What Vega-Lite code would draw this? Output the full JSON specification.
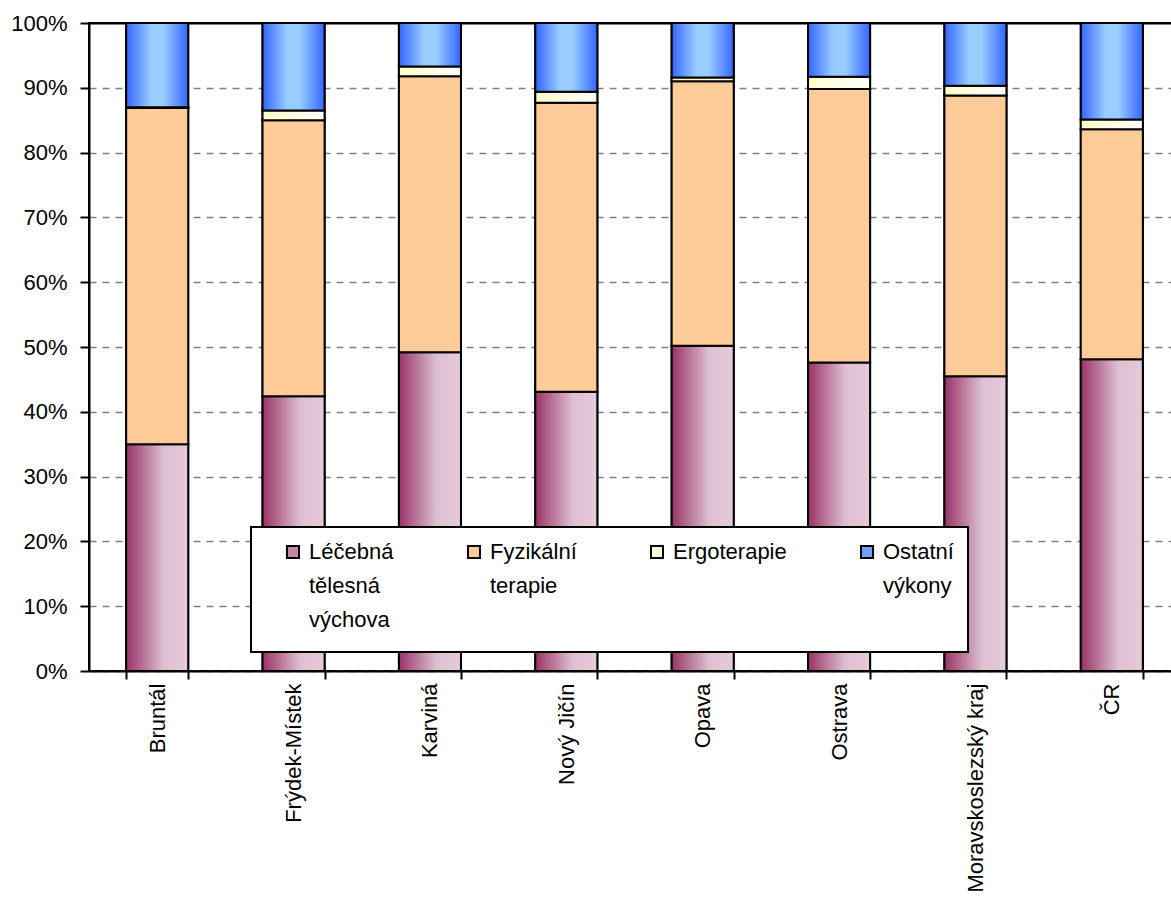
{
  "$schema": "https://vega.github.io/schema/vega-lite/v6.json",
  "width": 1091,
  "height": 648,
  "padding": {"left": 10, "top": 12, "right": 0, "bottom": 0},
  "background": "white",
  "data": {
    "values": [
      {"okres": "Bruntál", "typ": "Léčebná tělesná výchova", "podil": 35.0},
      {"okres": "Bruntál", "typ": "Fyzikální terapie", "podil": 51.9},
      {"okres": "Bruntál", "typ": "Ergoterapie", "podil": 0.1},
      {"okres": "Bruntál", "typ": "Ostatní výkony", "podil": 13.0},
      {"okres": "Frýdek-Místek", "typ": "Léčebná tělesná výchova", "podil": 42.4},
      {"okres": "Frýdek-Místek", "typ": "Fyzikální terapie", "podil": 42.6},
      {"okres": "Frýdek-Místek", "typ": "Ergoterapie", "podil": 1.5},
      {"okres": "Frýdek-Místek", "typ": "Ostatní výkony", "podil": 13.5},
      {"okres": "Karviná", "typ": "Léčebná tělesná výchova", "podil": 49.2},
      {"okres": "Karviná", "typ": "Fyzikální terapie", "podil": 42.6},
      {"okres": "Karviná", "typ": "Ergoterapie", "podil": 1.5},
      {"okres": "Karviná", "typ": "Ostatní výkony", "podil": 6.7},
      {"okres": "Nový Jičín", "typ": "Léčebná tělesná výchova", "podil": 43.1},
      {"okres": "Nový Jičín", "typ": "Fyzikální terapie", "podil": 44.6},
      {"okres": "Nový Jičín", "typ": "Ergoterapie", "podil": 1.7},
      {"okres": "Nový Jičín", "typ": "Ostatní výkony", "podil": 10.6},
      {"okres": "Opava", "typ": "Léčebná tělesná výchova", "podil": 50.2},
      {"okres": "Opava", "typ": "Fyzikální terapie", "podil": 40.8},
      {"okres": "Opava", "typ": "Ergoterapie", "podil": 0.6},
      {"okres": "Opava", "typ": "Ostatní výkony", "podil": 8.4},
      {"okres": "Ostrava", "typ": "Léčebná tělesná výchova", "podil": 47.6},
      {"okres": "Ostrava", "typ": "Fyzikální terapie", "podil": 42.2},
      {"okres": "Ostrava", "typ": "Ergoterapie", "podil": 1.9},
      {"okres": "Ostrava", "typ": "Ostatní výkony", "podil": 8.3},
      {"okres": "Moravskoslezský kraj", "typ": "Léčebná tělesná výchova", "podil": 45.5},
      {"okres": "Moravskoslezský kraj", "typ": "Fyzikální terapie", "podil": 43.3},
      {"okres": "Moravskoslezský kraj", "typ": "Ergoterapie", "podil": 1.5},
      {"okres": "Moravskoslezský kraj", "typ": "Ostatní výkony", "podil": 9.7},
      {"okres": "ČR", "typ": "Léčebná tělesná výchova", "podil": 48.1},
      {"okres": "ČR", "typ": "Fyzikální terapie", "podil": 35.5},
      {"okres": "ČR", "typ": "Ergoterapie", "podil": 1.5},
      {"okres": "ČR", "typ": "Ostatní výkony", "podil": 14.9}
    ]
  },
  "transform": [
    {"calculate": "indexof(['Léčebná tělesná výchova', 'Fyzikální terapie', 'Ergoterapie', 'Ostatní výkony'], datum.typ)", "as": "poradi"}
  ],
  "encoding": {
    "x": {
      "field": "okres",
      "type": "nominal",
      "sort": null,
      "scale": {"paddingInner": 0.545, "paddingOuter": 0.2725},
      "axis": {
        "title": null,
        "labelAngle": -90,
        "tickBand": "extent",
        "tickSize": 8,
        "tickWidth": 2,
        "tickColor": "black",
        "domainColor": "black",
        "domainWidth": 2,
        "labelPadding": 4,
        "labelFont": "Liberation Sans, Arial",
        "labelFontSize": 22,
        "labelColor": "black",
        "labelLimit": 400
      }
    },
    "y": {
      "field": "podil",
      "type": "quantitative",
      "stack": "normalize",
      "scale": {"domain": [0, 1], "nice": false},
      "axis": {
        "title": null,
        "values": [0, 0.1, 0.2, 0.3, 0.4, 0.5, 0.6, 0.7, 0.8, 0.9, 1],
        "format": ".0%",
        "grid": true,
        "gridColor": {"condition": {"test": "datum.value >= 1", "value": "black"}, "value": "#808080"},
        "gridDash": {"condition": {"test": "datum.value >= 1", "value": []}, "value": [7, 6]},
        "gridWidth": {"condition": {"test": "datum.value >= 1", "value": 2}, "value": 1.5},
        "tickSize": 9,
        "tickWidth": 2,
        "tickColor": "black",
        "domainColor": "black",
        "domainWidth": 2,
        "labelPadding": 13,
        "labelFont": "Liberation Sans, Arial",
        "labelFontSize": 22,
        "labelColor": "black"
      }
    },
    "order": {"field": "poradi", "type": "quantitative", "sort": "ascending"}
  },
  "layer": [
    {
      "mark": {"type": "bar", "stroke": "black", "strokeWidth": 2},
      "encoding": {
        "color": {
          "field": "typ",
          "type": "nominal",
          "sort": ["Léčebná tělesná výchova", "Fyzikální terapie", "Ergoterapie", "Ostatní výkony"],
          "scale": {
            "domain": ["Léčebná tělesná výchova", "Fyzikální terapie", "Ergoterapie", "Ostatní výkony"],
            "range": ["#c08aa8", "#ffcc99", "#ffffe0", "#6f9fff"]
          },
          "legend": {
            "title": " ",
            "titleOrient": "bottom",
            "titleFontSize": 6,
            "titlePadding": 1,
            "orient": "none",
            "legendX": 162,
            "legendY": 504,
            "direction": "horizontal",
            "columns": 4,
            "columnPadding": 52,
            "symbolType": "square",
            "symbolSize": 144,
            "symbolStrokeColor": "black",
            "symbolStrokeWidth": 2,
            "symbolOffset": 17,
            "labelOffset": 5,
            "labelFont": "Liberation Sans, Arial",
            "labelFontSize": 22,
            "labelColor": "black",
            "labelLimit": 400,
            "labelBaseline": "top",
            "labelExpr": "datum.label == 'Léčebná tělesná výchova' ? ['Léčebná', 'tělesná', 'výchova'] : datum.label == 'Fyzikální terapie' ? ['Fyzikální', 'terapie', ''] : datum.label == 'Ostatní výkony' ? ['Ostatní\u00a0\u00a0\u00a0\u00a0\u00a0\u00a0\u00a0\u00a0\u00a0', 'výkony', ''] : [datum.label, '', '']",
            "strokeColor": "black",
            "fillColor": "white",
            "padding": 14,
            "encode": {
              "legend": {"update": {"strokeWidth": {"value": 2}}},
              "labels": {"update": {"lineHeight": {"value": 34}, "dy": {"value": -10}}},
              "symbols": {"update": {
                "stroke": {"value": "black"},
                "strokeWidth": {"value": 2},
                "fill": {"signal": "datum.value == 'Léčebná tělesná výchova' ? {gradient: 'linear', x1: 0, y1: 0, x2: 1, y2: 0, stops: [{offset: 0, color: '#993366'}, {offset: 0.6, color: '#dcbfd0'}, {offset: 1, color: '#e6cbdb'}]} : datum.value == 'Fyzikální terapie' ? '#ffcc99' : datum.value == 'Ergoterapie' ? {gradient: 'linear', x1: 0, y1: 0, x2: 1, y2: 0, stops: [{offset: 0, color: '#ffffc8'}, {offset: 1, color: '#ffffff'}]} : {gradient: 'linear', x1: 0, y1: 0, x2: 1, y2: 0, stops: [{offset: 0, color: '#3366ff'}, {offset: 0.5, color: '#99ccff'}, {offset: 1, color: '#3366ff'}]}"}
              }}
            }
          }
        }
      }
    },
    {
      "mark": {"type": "bar", "stroke": "black", "strokeWidth": 2},
      "encoding": {
        "detail": {"field": "typ", "type": "nominal"},
        "color": {
          "condition": [
            {"test": "datum.typ == 'Léčebná tělesná výchova'", "value": {"gradient": "linear", "x1": 0, "y1": 0, "x2": 1, "y2": 0, "stops": [{"offset": 0, "color": "#993366"}, {"offset": 0.6, "color": "#dcbfd0"}, {"offset": 1, "color": "#e6cbdb"}]}},
            {"test": "datum.typ == 'Fyzikální terapie'", "value": "#ffcc99"},
            {"test": "datum.typ == 'Ergoterapie'", "value": {"gradient": "linear", "x1": 0, "y1": 0, "x2": 1, "y2": 0, "stops": [{"offset": 0, "color": "#ffffc8"}, {"offset": 1, "color": "#ffffff"}]}}
          ],
          "value": {"gradient": "linear", "x1": 0, "y1": 0, "x2": 1, "y2": 0, "stops": [{"offset": 0, "color": "#3366ff"}, {"offset": 0.4, "color": "#99ccff"}, {"offset": 0.6, "color": "#99ccff"}, {"offset": 1, "color": "#3366ff"}]}
        }
      }
    }
  ],
  "config": {
    "view": {"stroke": "black", "strokeWidth": 2}
  }
}
